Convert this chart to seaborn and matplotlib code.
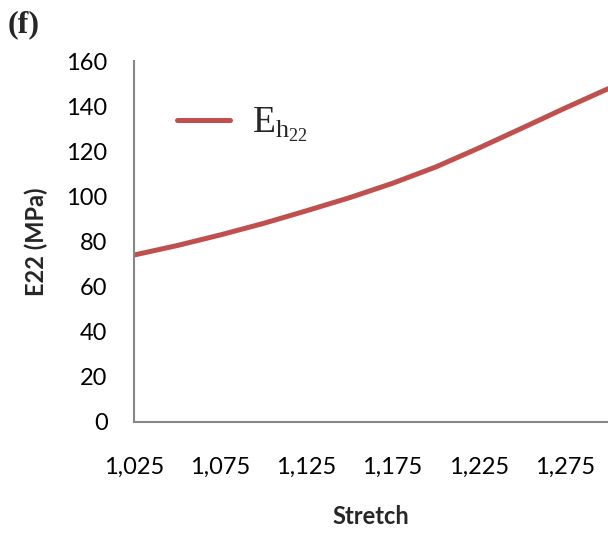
import matplotlib
matplotlib.use("Agg")
import matplotlib.pyplot as plt
import pandas as pd
import seaborn as sns

# data
stretch = [1.025, 1.050, 1.075, 1.100, 1.125, 1.150, 1.175, 1.200, 1.225, 1.250, 1.275, 1.300]
e22 = [74.0, 78.2, 82.9, 88.0, 93.6, 99.4, 105.8, 113.0, 121.4, 130.2, 139.1, 147.7]
xticks = [1.025, 1.075, 1.125, 1.175, 1.225, 1.275]
xticklabels = ["1,025", "1,075", "1,125", "1,175", "1,225", "1,275"]
yticks = [0, 20, 40, 60, 80, 100, 120, 140, 160]

sns.set_style("white")
plt.rcParams["font.family"] = ["Lato", "DejaVu Sans"]
plt.rcParams["mathtext.fontset"] = "custom"
plt.rcParams["mathtext.rm"] = "Liberation Serif"

df = pd.DataFrame({"Stretch": stretch, "E22": e22})

fig = plt.figure(figsize=(6.08, 5.33), dpi=100)
ax = fig.add_axes([134 / 608, 1 - 422 / 533, 1 - 134 / 608, (422 - 61) / 533])

sns.lineplot(data=df, x="Stretch", y="E22", ax=ax, color="#C0504D", linewidth=3.6,
             label=r"$\mathrm{E_{h_{22}}}$")

ax.set_xlim(1.025, 1.3)
ax.set_ylim(0, 160)
ax.set_xticks(xticks)
ax.set_xticklabels(xticklabels)
ax.set_yticks(yticks)
ax.tick_params(axis="both", length=0, labelsize=17, colors="black")
ax.tick_params(axis="x", pad=25)
ax.tick_params(axis="y", pad=19)

for side in ["top", "right"]:
    ax.spines[side].set_visible(False)
for side in ["left", "bottom"]:
    ax.spines[side].set_color("#868686")
    ax.spines[side].set_linewidth(1.5)

ax.set_xlabel("Stretch", fontsize=17, fontweight="bold", labelpad=20)
ax.set_ylabel("E22 (MPa)", fontsize=17, fontweight="bold", labelpad=13)

leg = ax.legend(loc="upper left", bbox_to_anchor=(0.02, 0.975), frameon=False,
                fontsize=27, handlelength=1.4, handletextpad=0.6)

fig.text(8 / 608, 1 - 25 / 533, "(f)", fontsize=23, fontweight="bold",
         family=["Liberation Serif"], va="center", ha="left")

fig.savefig("out.png", dpi=100)
